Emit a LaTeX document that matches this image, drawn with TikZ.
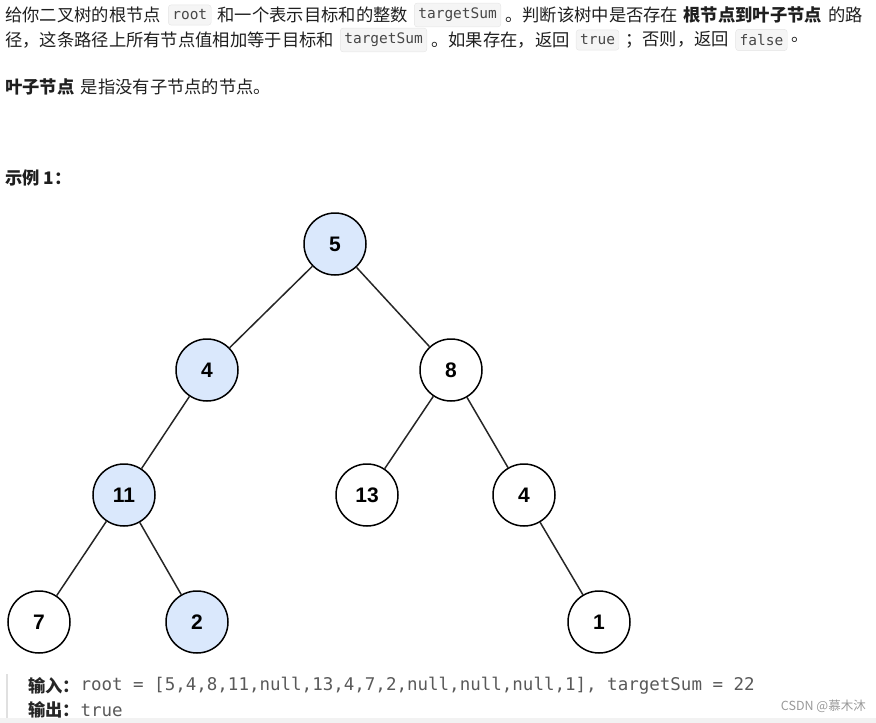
\documentclass[tikz,border=0pt]{standalone}
\usepackage{fontspec}
\setmainfont{Noto Sans CJK SC}
\newfontfamily\numfont{Liberation Sans}
\newfontfamily\codefont{DejaVu Sans Mono}
\usetikzlibrary{positioning}

\definecolor{hitblue}{HTML}{DAE8FC}
\definecolor{codebg}{HTML}{F5F5F5}
\definecolor{codeline}{HTML}{E4E4E4}

\begin{document}
\begin{tikzpicture}[
  x=1pt, y=-1pt,
  txt/.style={inner sep=0pt, font=\fontsize{17.3}{20}\selectfont, text=black!88},
  bold/.style={txt, font=\fontsize{17.3}{20}\selectfont\bfseries},
  code/.style={rectangle, draw=codeline, fill=codebg, rounded corners=3pt,
               inner xsep=4pt, inner ysep=5pt, text=black!72,
               font=\codefont\fontsize{14.5}{16}\selectfont},
  mono/.style={inner sep=0pt, text=black!65,
               font=\codefont\fontsize{17.5}{20}\selectfont},
  treenode/.style={circle, draw=black, line width=1.5pt, minimum size=62pt,
                   inner sep=0pt, fill=white,
                   font=\numfont\bfseries\fontsize{21}{24}\selectfont},
  hitnode/.style={treenode, fill=hitblue},
  link/.style={line width=1.5pt, black!85},
  node distance=0pt and 6pt
]
\useasboundingbox (0,0) rectangle (876,723);

% Problem statement
\node[txt, anchor=west] (l1a) at (5,15) {给你二叉树的根节点};
\node[code, right=7pt of l1a] (l1b) {root};
\node[txt, right=of l1b] (l1c) {和一个表示目标和的整数};
\node[code, right=of l1c] (l1d) {targetSum};
\node[txt, right=4pt of l1d] (l1e) {。判断该树中是否存在};
\node[bold, right=5pt of l1e] (l1f) {根节点到叶子节点};
\node[txt, right=of l1f] (l1g) {的路};

\node[txt, anchor=west] (l2a) at (5,40) {径，这条路径上所有节点值相加等于目标和};
\node[code, right=of l2a] (l2b) {targetSum};
\node[txt, right=4pt of l2b] (l2c) {。如果存在，返回};
\node[code, right=of l2c] (l2d) {true};
\node[txt, right=of l2d] (l2e) {；否则，返回};
\node[code, right=of l2e] (l2f) {false};
\node[txt, right=4pt of l2f] (l2g) {。};

\node[bold, anchor=west] (l3a) at (5,87) {叶子节点};
\node[txt, right=of l3a] (l3b) {是指没有子节点的节点。};

\node[bold, anchor=west] (ex) at (5,178) {示例 1：};

% Tree
\node[hitnode] (root5) at (335,244) {5};
\node[hitnode] (l4) at (207,370) {4};
\node[treenode] (r8) at (451,370) {8};
\node[hitnode] (l11) at (124,495) {11};
\node[treenode] (m13) at (367,495) {13};
\node[treenode] (r4) at (524,495) {4};
\node[treenode] (ll7) at (39,622) {7};
\node[hitnode] (lr2) at (197,622) {2};
\node[treenode] (rr1) at (599,622) {1};

\draw[link] (root5) -- (l4);
\draw[link] (root5) -- (r8);
\draw[link] (l4) -- (l11);
\draw[link] (r8) -- (m13);
\draw[link] (r8) -- (r4);
\draw[link] (l11) -- (ll7);
\draw[link] (l11) -- (lr2);
\draw[link] (r4) -- (rr1);

% Example input / output
\draw[black!12, line width=1.5pt] (7,674) -- (7,718);
\fill[black!5] (0,718) rectangle (876,723);

\node[bold, anchor=west, text=black!85] (inlbl) at (28,686) {输入：};
\node[mono, right=0pt of inlbl] (intxt) {root = [5,4,8,11,null,13,4,7,2,null,null,null,1], targetSum = 22};
\node[bold, anchor=west, text=black!85] (outlbl) at (28,710) {输出：};
\node[mono, right=0pt of outlbl] (outtxt) {true};

\node[txt, anchor=east, text=black!40, font=\fontsize{12.5}{15}\selectfont] (mark) at (866,706) {CSDN @慕木沐};
\end{tikzpicture}
\end{document}
